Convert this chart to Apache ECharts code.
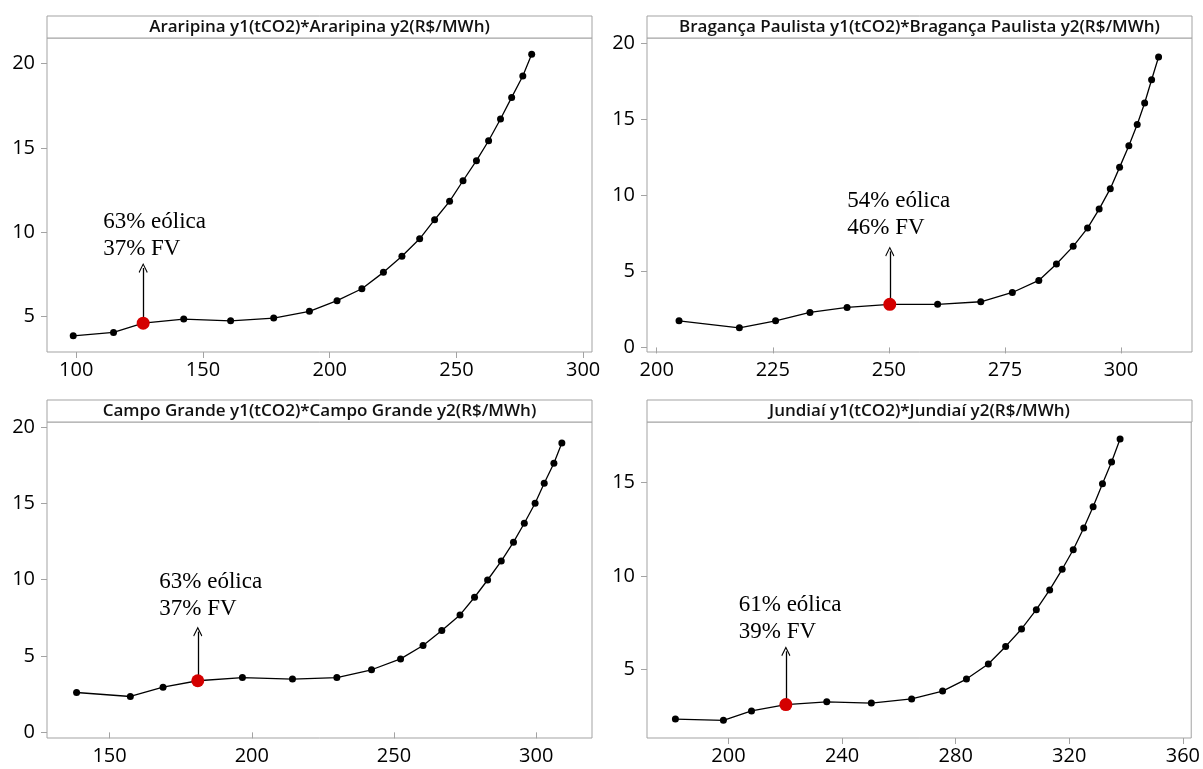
<!DOCTYPE html>
<html>
<head>
<meta charset="utf-8">
<script src="https://cdn.jsdelivr.net/npm/echarts@6/dist/echarts.min.js"></script>
<style>
  html, body { margin: 0; padding: 0; background: #fff; }
  #chart { width: 1203px; height: 769px; }
</style>
</head>
<body>
<div id="chart"></div>
<script>
// 数据: Araripina
const araripinaX = [98.8, 114.7, 126.4, 142.4, 160.9, 177.9, 192.0, 202.9, 212.7, 221.2, 228.5, 235.5, 241.4, 247.3, 252.6, 257.9, 262.7, 267.4, 271.8, 276.2, 279.7]
const araripinaY = [3.87, 4.07, 4.62, 4.86, 4.76, 4.92, 5.32, 5.95, 6.66, 7.63, 8.58, 9.62, 10.75, 11.84, 13.06, 14.25, 15.43, 16.72, 18.0, 19.27, 20.55]
// Bragança Paulista
const bragancaX = [204.8, 217.8, 225.6, 233.0, 241.0, 250.2, 260.5, 269.8, 276.6, 282.3, 286.1, 289.7, 292.8, 295.3, 297.7, 299.7, 301.7, 303.5, 305.1, 306.6, 308.1]
const bragancaY = [1.75, 1.29, 1.75, 2.30, 2.63, 2.83, 2.83, 3.0, 3.61, 4.40, 5.48, 6.64, 7.84, 9.09, 10.43, 11.83, 13.25, 14.65, 16.06, 17.59, 19.08]
// Campo Grande
const campoX = [138.4, 157.3, 168.8, 181.0, 196.7, 214.3, 229.9, 242.1, 252.3, 260.2, 266.8, 273.2, 278.3, 282.9, 287.7, 292.0, 295.8, 299.6, 302.8, 306.2, 309.0]
const campoY = [2.61, 2.35, 2.96, 3.38, 3.59, 3.49, 3.59, 4.10, 4.81, 5.69, 6.67, 7.69, 8.85, 9.98, 11.22, 12.46, 13.70, 15.01, 16.32, 17.63, 18.95]
// Jundiaí
const jundiaiX = [181.3, 198.2, 208.1, 220.2, 234.6, 250.3, 264.5, 275.4, 283.8, 291.5, 297.6, 303.2, 308.4, 313.1, 317.5, 321.4, 325.1, 328.4, 331.7, 334.9, 337.9]
const jundiaiY = [2.37, 2.30, 2.80, 3.14, 3.29, 3.22, 3.44, 3.86, 4.50, 5.30, 6.24, 7.17, 8.20, 9.25, 10.35, 11.39, 12.55, 13.68, 14.91, 16.07, 17.29]

const titles = [
  'Araripina y1(tCO2)*Araripina y2(R$/MWh)',
  'Bragança Paulista y1(tCO2)*Bragança Paulista y2(R$/MWh)',
  'Campo Grande y1(tCO2)*Campo Grande y2(R$/MWh)',
  'Jundiaí y1(tCO2)*Jundiaí y2(R$/MWh)'
]

// 刻度
const xTicks = [[100, 150, 200, 250, 300], [200, 225, 250, 275, 300], [150, 200, 250, 300], [200, 240, 280, 320, 360]]
const yTicks = [[5, 10, 15, 20], [0, 5, 10, 15, 20], [0, 5, 10, 15, 20], [5, 10, 15]]
const xRange = [[88.45, 303.5], [197.9, 315.3], [128.0, 319.6], [171.3, 362.95]]
const yRange = [[2.91, 21.52], [-0.3, 20.33], [-0.37, 20.33], [1.36, 18.2]]

// 标注 (最优点)
const bestIndex = [2, 5, 3, 3]
const noteText = ['63% eólica\n37% FV', '54% eólica\n46% FV', '63% eólica\n37% FV', '61% eólica\n39% FV']
const noteAt = [[110.6, 9.79], [241.05, 8.74], [167.5, 8.95], [203.6, 7.73]]
const arrowTop = [7.89, 6.31, 6.6, 5.98]

const seriesX = [araripinaX, bragancaX, campoX, jundiaiX]
const seriesY = [araripinaY, bragancaY, campoY, jundiaiY]

// 布局
const panels = [
  { left: 47, top: 38, width: 545, height: 314 },
  { left: 647, top: 38, width: 545, height: 314 },
  { left: 47, top: 422, width: 545, height: 316 },
  { left: 647, top: 422, width: 545, height: 316 }
]
const stripH = 22
const frameColor = '#a3a3a3'
const arrowHead = 'path://M0,0 L6,9 L5,10 L0,2.4 L-5,10 L-6,9 Z'

const grid = []
const xAxis = []
const yAxis = []
const series = []
const graphic = []

panels.forEach((p, i) => {
  grid.push({ ...p, show: true, borderColor: frameColor, borderWidth: 1, backgroundColor: '#fff' })

  xAxis.push({
    gridIndex: i,
    type: 'value',
    min: xRange[i][0],
    max: xRange[i][1],
    axisLine: { show: false },
    splitLine: { show: false },
    axisTick: { show: true, length: 6, customValues: xTicks[i], lineStyle: { color: frameColor } },
    axisLabel: { customValues: xTicks[i], margin: 8, color: '#000', fontSize: 20, fontFamily: 'Open Sans' }
  })
  yAxis.push({
    gridIndex: i,
    type: 'value',
    min: yRange[i][0],
    max: yRange[i][1],
    axisLine: { show: false },
    splitLine: { show: false },
    axisTick: { show: true, length: 6, customValues: yTicks[i], lineStyle: { color: frameColor } },
    axisLabel: { customValues: yTicks[i], margin: 12, color: '#000', fontSize: 20, fontFamily: 'Open Sans' }
  })

  const pts = seriesX[i].map((x, k) => [x, seriesY[i][k]])
  const best = pts[bestIndex[i]]

  series.push({
    type: 'line',
    xAxisIndex: i,
    yAxisIndex: i,
    data: pts,
    symbol: 'circle',
    symbolSize: 7,
    showSymbol: true,
    itemStyle: { color: '#000', opacity: 1 },
    lineStyle: { color: '#000', width: 1.3 },
    animation: false,
    z: 3
  })
  series.push({
    type: 'scatter',
    xAxisIndex: i,
    yAxisIndex: i,
    data: [best],
    symbolSize: 13,
    itemStyle: { color: '#d40000', opacity: 1 },
    animation: false,
    z: 5,
    markLine: {
      silent: true,
      animation: false,
      symbol: ['none', arrowHead],
      symbolSize: [9, 10],
      label: { show: false },
      lineStyle: { color: '#000', width: 1.3, type: 'solid', opacity: 1 },
      data: [[{ coord: best }, { coord: [best[0], arrowTop[i]] }]]
    }
  })
  series.push({
    type: 'scatter',
    xAxisIndex: i,
    yAxisIndex: i,
    data: [noteAt[i]],
    symbolSize: 0,
    silent: true,
    animation: false,
    itemStyle: { opacity: 1 },
    label: {
      show: true,
      position: 'right',
      distance: 0,
      formatter: noteText[i],
      fontFamily: 'Liberation Serif',
      fontSize: 23,
      lineHeight: 27,
      color: '#000'
    }
  })

  // 标题条
  graphic.push({
    type: 'rect',
    shape: { x: p.left, y: p.top - stripH, width: p.width, height: stripH },
    style: { fill: '#fff', stroke: frameColor, lineWidth: 1 },
    silent: true
  })
  graphic.push({
    type: 'text',
    x: p.left + p.width / 2,
    y: p.top - stripH / 2,
    style: {
      text: titles[i],
      textAlign: 'center',
      textVerticalAlign: 'middle',
      fontFamily: 'Open Sans',
      fontSize: 17,
      fontWeight: 600,
      fill: '#111'
    },
    silent: true
  })
})

const chart = echarts.init(document.getElementById('chart'))
chart.setOption({
  backgroundColor: '#fff',
  animation: false,
  grid,
  xAxis,
  yAxis,
  series,
  graphic
})
</script>
</body>
</html>
